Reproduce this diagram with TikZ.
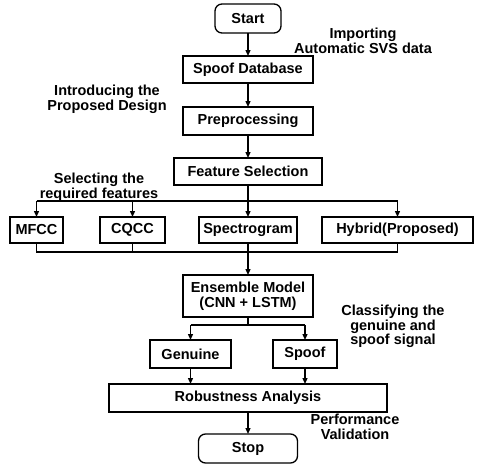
\documentclass[tikz,border=0pt]{standalone}
\usepackage{fontspec}
\setmainfont{Liberation Sans}
\usetikzlibrary{arrows.meta, positioning}

\begin{document}
\begin{tikzpicture}[x=1pt, y=-1pt,
   box/.style={rectangle, draw, line width=1.3pt, minimum height=27pt, inner sep=1pt, outer sep=0pt,
               font=\fontsize{14.5}{14.5}\selectfont\bfseries},
   term/.style={box, rounded corners=7pt, minimum height=29pt},
   note/.style={align=center, inner sep=0pt, font=\fontsize{14.5}{14.5}\selectfont\bfseries},
   arr/.style={-{Triangle[length=6pt, width=5pt]}, line width=1.3pt},
   ln/.style={line width=1.3pt}]
  \useasboundingbox (0,0) rectangle (480,472);
  \node[term, minimum width=66pt] (start) at (248,18.5) {Start};
  \node[box, minimum width=130pt, below=23pt of start] (db) {Spoof Database};
  \node[box, minimum width=130pt, minimum height=28pt, below=24pt of db] (pre) {Preprocessing};
  \node[box, minimum width=148pt, below=23pt of pre] (fs) {Feature Selection};
  \node[box, minimum width=98pt, minimum height=26pt, below=32pt of fs] (spec) {Spectrogram};
  \node[box, minimum width=65pt, minimum height=26pt, left=34pt of spec] (cqcc) {CQCC};
  \node[box, minimum width=53pt, minimum height=26pt, left=37pt of cqcc] (mfcc) {MFCC};
  \node[box, minimum width=151pt, minimum height=26pt, right=25pt of spec] (hyb) {Hybrid(Proposed)};
  \node[box, minimum width=130pt, minimum height=42pt, align=center, below=32pt of spec] (ens)
       {Ensemble Model\\(CNN + LSTM)};
  \node[box, minimum width=81pt, minimum height=28pt, below=23pt of ens, xshift=-57.5pt] (gen) {Genuine};
  \node[box, minimum width=64pt, minimum height=28pt, below=23pt of ens, xshift=57pt] (spf) {Spoof};
  \node[box, minimum width=278pt, minimum height=28pt, below=67pt of ens] (rob) {Robustness Analysis};
  \node[term, minimum width=99pt, below=22pt of rob] (stop) {Stop};

  \node[note] (imp) at (363,41) {Importing\\Automatic SVS data};
  \node[note] (intro) at (107,99.5) {Introducing the\\Proposed Design};
  \node[note] (sel) at (99,187) {Selecting the\\required features};
  \node[note] (cls) at (393,326.5) {Classifying the\\genuine and\\spoof signal};
  \node[note] (perf) at (355,427) {Performance\\Validation};

  \draw[arr] (start) -- (db);
  \draw[arr] (db) -- (pre);
  \draw[arr] (pre) -- (fs);
  \draw[arr] (fs) -- (spec);
  \coordinate (top) at ([yshift=-16pt]fs.south);
  \draw[ln] (top -| mfcc) -- (top -| hyb);
  \draw[arr] (top -| mfcc) -- (mfcc);
  \draw[arr] (top -| cqcc) -- (cqcc);
  \draw[arr] (top -| hyb) -- (hyb);
  \coordinate (bot) at ([yshift=-9pt]spec.south);
  \draw[ln] (mfcc) -- (bot -| mfcc) -- (bot -| hyb) -- (hyb);
  \draw[ln] (cqcc) -- (bot -| cqcc);
  \draw[arr] (spec) -- (ens);
  \coordinate (mid) at ([yshift=-8pt]ens.south);
  \draw[ln] (ens) -- (mid);
  \draw[ln] (mid -| gen) -- (mid -| spf);
  \draw[arr] (mid -| gen) -- (gen);
  \draw[arr] (mid -| spf) -- (spf);
  \draw[arr] (gen) -- (gen |- rob.north);
  \draw[arr] (spf) -- (spf |- rob.north);
  \draw[arr] (rob) -- (stop);
\end{tikzpicture}
\end{document}
